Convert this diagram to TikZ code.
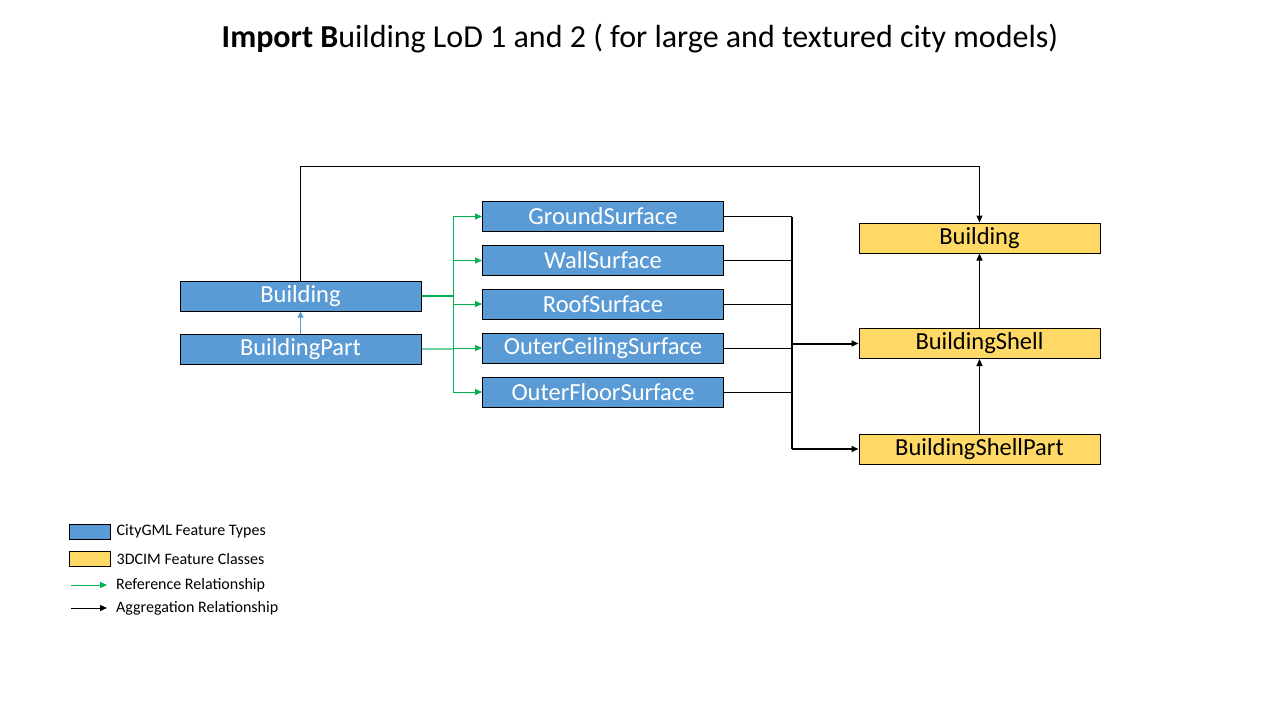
\documentclass[tikz,border=0pt]{standalone}
\usepackage{fontspec}
\setmainfont{Carlito}
\usetikzlibrary{arrows.meta,positioning}

\definecolor{cityblue}{HTML}{5B9BD5}
\definecolor{cimyellow}{HTML}{FFD966}
\definecolor{refgreen}{HTML}{00B050}
\definecolor{reflight}{HTML}{70D09A}

\tikzset{
  citybox/.style={draw=black, fill=cityblue, text=white, line width=1pt,
    minimum width=241pt, minimum height=30pt, inner sep=0pt,
    font=\fontsize{24.5}{28}\selectfont},
  cimbox/.style={citybox, fill=cimyellow, text=black},
  legendbox/.style={draw=black, line width=1pt, minimum width=41pt,
    minimum height=15pt, inner sep=0pt},
  legendtext/.style={font=\fontsize{16}{18}\selectfont, inner sep=0pt},
  refline/.style={draw=refgreen, line width=1pt},
  refarrow/.style={refline, -{Triangle[length=7pt,width=6pt]}},
  aggline/.style={draw=black, line width=1pt},
  aggarrow/.style={aggline, -{Triangle[length=7pt,width=6pt]}}
}

\begin{document}
\begin{tikzpicture}[x=1pt,y=-1pt]
  \useasboundingbox (0,0) rectangle (1280,720);

  %Title
  \node[font=\fontsize{32}{36}\selectfont] (title) at (640,39)
    {\textbf{Import B}uilding LoD 1 and 2 ( for large and textured city models)};

  %CityGML feature types
  \node[citybox] (bldg) at (300.5,296) {Building};
  \node[citybox] (part) at (300.5,349) {BuildingPart};

  \node[citybox] (ground)  at (603,216.5) {GroundSurface};
  \node[citybox] (wall)    at (603,260.5) {WallSurface};
  \node[citybox] (roof)    at (603,304)   {RoofSurface};
  \node[citybox] (ceiling) at (603,348)   {OuterCeilingSurface};
  \node[citybox] (floor)   at (603,392)   {OuterFloorSurface};

  %3DCIM feature classes
  \node[cimbox] (cimbldg)   at (979.5,238)   {Building};
  \node[cimbox] (shell)     at (979.5,343.5) {BuildingShell};
  \node[cimbox] (shellpart) at (979.5,449)   {BuildingShellPart};

  %Building -> Building
  \coordinate (topbend) at (300.5,166);
  \draw[aggarrow] (bldg.north) -- (topbend) -| (cimbldg.north);

  %BuildingPart -> Building
  \draw[draw=cityblue, line width=1pt, -{Triangle[length=6pt,width=6pt]}]
    (part.north) -- (bldg.south);

  %Reference relationships
  \coordinate (reftrunk) at (453,296);
  \draw[refline, line width=2pt] (bldg.east) -- (reftrunk);
  \draw[refline, draw=reflight, line width=2pt] (part.east) -- (reftrunk |- part.east);
  \draw[refline] (reftrunk |- ground.west) -- (reftrunk |- floor.west);
  \foreach \s in {ground,wall,roof,ceiling,floor}
    \draw[refarrow] (reftrunk |- \s.west) -- (\s.west);

  %Aggregation relationships
  \coordinate (aggtrunk) at (792,343.5);
  \foreach \s in {ground,wall,roof,ceiling,floor}
    \draw[aggline] (\s.east) -- (aggtrunk |- \s.east);
  \draw[aggline, line width=1.5pt] (aggtrunk |- ground.east) -- (aggtrunk |- shellpart.west);
  \draw[aggarrow, line width=2pt] (aggtrunk |- shell.west) -- (shell.west);
  \draw[aggarrow, line width=2pt] (aggtrunk |- shellpart.west) -- (shellpart.west);
  \draw[aggarrow] (shellpart.north) -- (shell.south);
  \draw[aggarrow] (shell.north) -- (cimbldg.south);

  %Legend
  \node[legendbox, fill=cityblue] (legcity) at (89.5,531.5) {};
  \node[legendtext, right=6pt of legcity] (legcitytext) {CityGML Feature Types};
  \node[legendbox, fill=cimyellow] (legcim) at (89.5,558.5) {};
  \node[legendtext, right=6pt of legcim] (legcimtext) {3DCIM Feature Classes};

  \coordinate (refstart) at (71,585);
  \coordinate (refend) at (107,585);
  \draw[refarrow] (refstart) -- (refend);
  \node[legendtext, right=9pt of refend] (legreftext) {Reference Relationship};

  \coordinate (aggstart) at (71,608);
  \coordinate (aggend) at (107,608);
  \draw[aggarrow] (aggstart) -- (aggend);
  \node[legendtext, right=9pt of aggend] (legaggtext) {Aggregation Relationship};
\end{tikzpicture}
\end{document}
